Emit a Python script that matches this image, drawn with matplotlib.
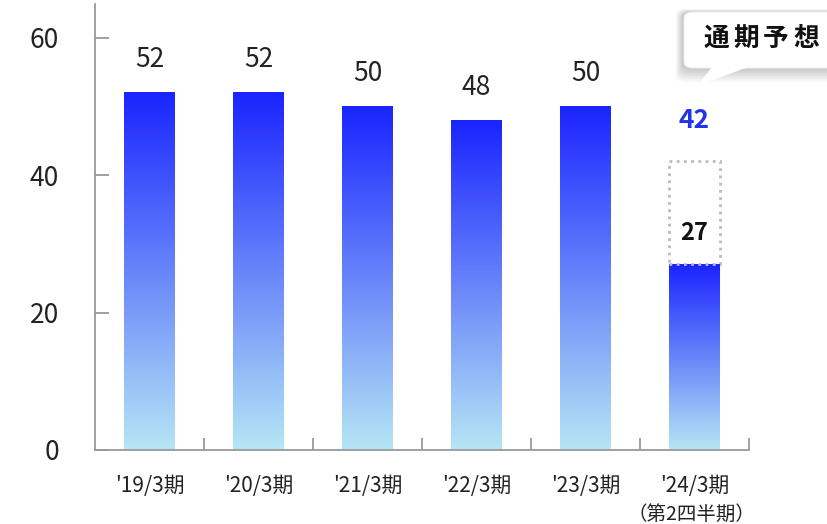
import numpy as np
import matplotlib
matplotlib.use("Agg")
import matplotlib.pyplot as plt
import matplotlib.patches as patches

plt.rcParams['font.family'] = ['Noto Sans CJK JP', 'DejaVu Sans']

labels = ["'19/3期", "'20/3期", "'21/3期", "'22/3期", "'23/3期", "'24/3期"]
values = [52, 52, 50, 48, 50, 27]
forecast = 42
sub_label = "（第2四半期）"

W, H = 827, 524
fig = plt.figure(figsize=(W / 100, H / 100), dpi=100)
ax = fig.add_axes([95 / W, 1 - 450 / H, 654 / W, 446 / H])

ax.set_xlim(-0.5, len(values) - 0.5)
ax.set_ylim(0, 64.9)

top = np.array([26, 36, 255]) / 255
bot = np.array([182, 230, 245]) / 255
t = np.linspace(0, 1, 256)[:, None]
grad = (bot * (1 - t) + top * t)[:, None, :]

bw = 0.46
for i, v in enumerate(values):
    ax.imshow(grad, extent=(i - bw / 2, i + bw / 2, 0, v), aspect='auto',
              origin='lower', interpolation='bilinear', zorder=2)
    if i < len(values) - 1:
        ax.text(i, v + 4.8, str(v), ha='center', va='center', fontsize=19, color='#222222')

# forecast box on last bar
last = len(values) - 1
ax.add_patch(patches.Rectangle((last - bw / 2, values[last]), bw, forecast - values[last],
                               fill=False, edgecolor='#bbbbbb', linestyle=(0, (1, 1.6)),
                               linewidth=2, zorder=3))
ax.text(last, values[last] + 4.6, str(values[last]), ha='center', va='center',
        fontsize=17, fontweight='bold', color='#111111')
ax.text(last, forecast + 6, str(forecast), ha='center', va='center',
        fontsize=19, fontweight='bold', color='#2233ee')

ax.set_xlim(-0.5, len(values) - 0.5)
ax.set_ylim(0, 64.9)

for s in ['top', 'right']:
    ax.spines[s].set_visible(False)
for s in ['left', 'bottom']:
    ax.spines[s].set_color('#999999')
    ax.spines[s].set_linewidth(1.3)

ax.set_yticks([0, 20, 40, 60])
ax.tick_params(axis='y', direction='in', length=10, width=1.3, color='#999999',
               labelsize=19, labelcolor='#222222', pad=26)
ax.set_xticks(np.arange(0.5, len(values) - 0.5 + 0.01, 1.0))
ax.set_xticklabels([])
ax.tick_params(axis='x', direction='in', length=9, width=1.3, color='#999999')
for i, lab in enumerate(labels):
    ax.text(i, -5.2, lab, ha='center', va='center', fontsize=15, color='#222222')
ax.text(last - 0.03, -9.3, sub_label, ha='center', va='center', fontsize=14, color='#222222')


def fx(px):
    return px / W


def fy(py):
    return 1 - py / H


# callout shadow
for k in range(10):
    off = k * 1.6
    sh = patches.FancyBboxPatch((fx(683 - off * 0.5), fy(68 + off)), fx(170 + off), (56 + off * 1.2) / H,
                                boxstyle="round,pad=0,rounding_size=0.012",
                                transform=fig.transFigure, facecolor='black',
                                edgecolor='none', alpha=0.025, zorder=5)
    fig.patches.append(sh)
box = patches.FancyBboxPatch((fx(684), fy(68)), fx(170), 56 / H,
                             boxstyle="round,pad=0,rounding_size=0.012",
                             transform=fig.transFigure, facecolor='white',
                             edgecolor='#eeeeee', linewidth=0.8, zorder=6)
fig.patches.append(box)
tail = patches.Polygon([(fx(712), fy(67)), (fx(748), fy(67)), (fx(697), fy(86))],
                       closed=True, transform=fig.transFigure, facecolor='white',
                       edgecolor='none', zorder=7)
fig.patches.append(tail)
for ch, cx in zip("通期予想", [716, 746, 776, 806]):
    fig.text(fx(cx), fy(38), ch, ha='center', va='center', fontsize=18.5,
             fontweight='bold', color='#111111', zorder=8)

fig.savefig("out.png", dpi=100)
